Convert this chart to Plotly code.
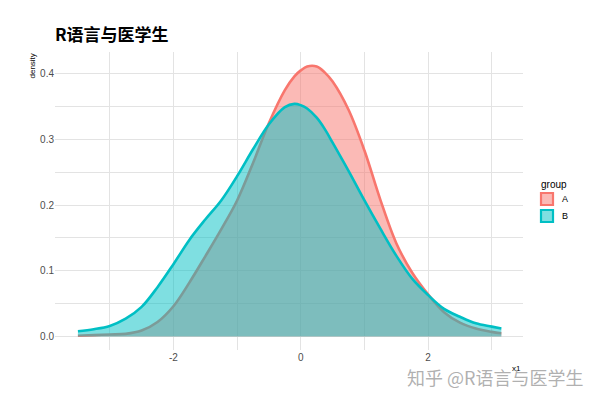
import plotly.graph_objects as go

# Density curves
x_grid = [-3.5, -3.25, -3.0, -2.75, -2.5, -2.25, -2.0, -1.75, -1.5, -1.25, -1.0,
          -0.75, -0.5, -0.25, -0.1, 0.0, 0.1, 0.25, 0.375, 0.5, 0.75, 1.0, 1.25, 1.5, 1.75, 2.0,
          2.25, 2.5, 2.75, 3.0, 3.15]
dens_A = [0.001, 0.002, 0.003, 0.004, 0.009, 0.022, 0.046, 0.082, 0.122, 0.163, 0.207,
          0.264, 0.325, 0.375, 0.396, 0.405, 0.411, 0.411, 0.402, 0.388, 0.345, 0.283, 0.208,
          0.142, 0.097, 0.064, 0.037, 0.021, 0.012, 0.007, 0.005]
dens_B = [0.008, 0.011, 0.016, 0.027, 0.045, 0.075, 0.110, 0.147, 0.178, 0.207, 0.244,
          0.285, 0.323, 0.349, 0.354, 0.352, 0.347, 0.333, 0.316, 0.295, 0.252, 0.207, 0.164,
          0.123, 0.088, 0.063, 0.042, 0.030, 0.020, 0.015, 0.012]
groups = ["A", "B"]
line_colors = ["#F8766D", "#00BFC4"]
fill_colors = ["rgba(248,118,109,0.5)", "rgba(0,191,196,0.5)"]
x_ticks = [-2, 0, 2]
y_ticks = [0.0, 0.1, 0.2, 0.3, 0.4]
y_tick_labels = ["0.0", "0.1", "0.2", "0.3", "0.4"]

fig = go.Figure()
for g, ys, lc, fc in zip(groups, [dens_A, dens_B], line_colors, fill_colors):
    fig.add_trace(go.Scatter(
        x=x_grid, y=ys, mode="lines", name=g,
        line=dict(color=lc, width=2.6, shape="spline", smoothing=1.0),
        fill="tozeroy", fillcolor=fc, showlegend=False,
    ))

W, H = 600, 401
L, R, T, B = 55, 77, 52, 51
pw, ph = W - L - R, H - T - B


def px(xp):
    return (xp - L) / pw


def py(yp):
    return (H - B - yp) / ph


grid_col = "#E3E3E3"
fig.update_layout(
    width=W, height=H,
    margin=dict(l=L, r=R, t=T, b=B),
    paper_bgcolor="white", plot_bgcolor="white",
    font=dict(family="Liberation Sans, Arial, sans-serif", color="#4D4D4D", size=10),
    title=dict(text="<b>R语言与医学生</b>", x=55 / W, xanchor="left",
               y=1 - 35 / H, yanchor="middle",
               font=dict(family="Noto Sans CJK SC, sans-serif", size=17, color="black")),
    xaxis=dict(range=[-3.86, 3.49], tickvals=x_ticks, ticktext=[str(v) for v in x_ticks],
               showgrid=True, gridcolor=grid_col, gridwidth=1, zeroline=False,
               showline=False, ticks="", tickfont=dict(size=10, color="#4D4D4D"),
               minor=dict(tickvals=[-3, -1, 1, 3], showgrid=True, gridcolor=grid_col, gridwidth=0.6)),
    yaxis=dict(range=[-0.0206, 0.433], tickvals=y_ticks, ticktext=y_tick_labels,
               showgrid=True, gridcolor=grid_col, gridwidth=1, zeroline=False,
               showline=False, ticks="", tickfont=dict(size=10, color="#4D4D4D"),
               minor=dict(tickvals=[0.05, 0.15, 0.25, 0.35], showgrid=True, gridcolor=grid_col, gridwidth=0.6)),
    showlegend=False,
)

annotations = [
    dict(text="density", xref="paper", yref="paper", x=px(32), y=1.0, xanchor="center",
         yanchor="top", textangle=-90, showarrow=False, font=dict(size=8, color="black")),
    dict(text="x1", xref="paper", yref="paper", x=px(523), y=py(368), xanchor="right",
         yanchor="middle", showarrow=False, font=dict(size=8, color="black")),
    dict(text="group", xref="paper", yref="paper", x=px(539), y=py(184), xanchor="left",
         yanchor="middle", showarrow=False, font=dict(size=10, color="black")),
]
key_tops = [192, 209]
for g, lc, fc, top in zip(groups, line_colors, fill_colors, key_tops):
    fig.add_shape(type="rect", xref="paper", yref="paper",
                  x0=px(541), x1=px(553), y0=py(top + 1), y1=py(top + 13),
                  fillcolor=fc, line=dict(color=lc, width=2.2))
    annotations.append(dict(text=g, xref="paper", yref="paper", x=px(560), y=py(top + 7),
                            xanchor="left", yanchor="middle", showarrow=False,
                            font=dict(size=9, color="black")))
annotations.append(dict(text="知乎 @R语言与医学生", xref="paper", yref="paper",
                        x=px(586), y=py(377), xanchor="right", yanchor="middle",
                        showarrow=False,
                        font=dict(family="Noto Sans CJK SC, sans-serif", size=18,
                                  color="rgba(150,150,150,0.75)")))
fig.update_layout(annotations=annotations)

fig.write_html("out.html", config={"displayModeBar": False},
               post_script="document.body.style.margin='0px';document.body.style.overflow='hidden';")
